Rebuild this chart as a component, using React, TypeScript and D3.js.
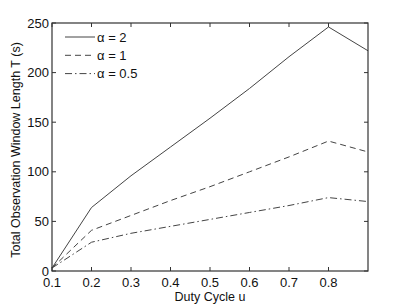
import React, { useEffect, useRef } from 'react';
import * as d3 from 'd3';

const dutyCycle = [0.1, 0.2, 0.3, 0.4, 0.5, 0.6, 0.7, 0.8, 0.9];
const alpha2 = [3, 64, 96, 125, 154, 184, 216, 246, 222];
const alpha1 = [3, 41, 56, 71, 85, 100, 115, 131, 120];
const alpha05 = [3, 29, 38, 45, 52, 59, 66, 74, 70];
const seriesNames = ['α = 2', 'α = 1', 'α = 0.5'];
const xTicks = [0.1, 0.2, 0.3, 0.4, 0.5, 0.6, 0.7, 0.8];
const yTicks = [0, 50, 100, 150, 200, 250];

const W = 407, H = 305;
const margin = { left: 52, top: 23, right: 39, bottom: 34 };

const App = () => {
  const svgRef = useRef(null);

  useEffect(() => {
    const svg = d3.select(svgRef.current);
    svg.selectAll('*').remove();
    const font = 'Liberation Sans, Arial, sans-serif';
    const iw = W - margin.left - margin.right;
    const ih = H - margin.top - margin.bottom;

    const x = d3.scaleLinear().domain([0.1, 0.9]).range([margin.left, margin.left + iw]);
    const y = d3.scaleLinear().domain([0, 250]).range([margin.top + ih, margin.top]);

    const g = svg.append('g');
    const axisColor = '#333';

    // lines
    const dashes = [null, '6,4', '7,3,1.5,3'];
    const data = [alpha2, alpha1, alpha05];
    const line = d3.line<number>()
      .x((d, i) => x(dutyCycle[i]))
      .y(d => y(d));
    data.forEach((s, k) => {
      g.append('path')
        .attr('d', line(s))
        .attr('fill', 'none')
        .attr('stroke', '#444')
        .attr('stroke-width', 1)
        .attr('stroke-dasharray', dashes[k]);
    });

    // box
    g.append('rect')
      .attr('x', margin.left).attr('y', margin.top)
      .attr('width', iw).attr('height', ih)
      .attr('fill', 'none').attr('stroke', axisColor).attr('stroke-width', 1.2);

    // ticks
    xTicks.forEach(t => {
      g.append('line').attr('x1', x(t)).attr('x2', x(t))
        .attr('y1', margin.top + ih).attr('y2', margin.top + ih - 4)
        .attr('stroke', axisColor);
      g.append('line').attr('x1', x(t)).attr('x2', x(t))
        .attr('y1', margin.top).attr('y2', margin.top + 4)
        .attr('stroke', axisColor);
      g.append('text').attr('x', x(t)).attr('y', margin.top + ih + 16)
        .attr('text-anchor', 'middle').attr('font-family', font).attr('font-size', 13)
        .attr('fill', '#111').text(d3.format('.1f')(t));
    });
    yTicks.forEach(t => {
      g.append('line').attr('x1', margin.left).attr('x2', margin.left + 4)
        .attr('y1', y(t)).attr('y2', y(t)).attr('stroke', axisColor);
      g.append('line').attr('x1', margin.left + iw).attr('x2', margin.left + iw - 4)
        .attr('y1', y(t)).attr('y2', y(t)).attr('stroke', axisColor);
      g.append('text').attr('x', margin.left - 3).attr('y', y(t) + 4.5)
        .attr('text-anchor', 'end').attr('font-family', font).attr('font-size', 13)
        .attr('fill', '#111').text(t);
    });

    // axis labels
    g.append('text').attr('x', margin.left + iw / 2).attr('y', 301)
      .attr('text-anchor', 'middle').attr('font-family', font).attr('font-size', 12.5)
      .attr('fill', '#111').text('Duty Cycle u');
    g.append('text')
      .attr('transform', `translate(20,${margin.top + ih / 2 + 3}) rotate(-90)`)
      .attr('text-anchor', 'middle').attr('font-family', font).attr('font-size', 12.5)
      .attr('fill', '#111').text('Total Observation Window Length T (s)');

    // legend
    seriesNames.forEach((name, k) => {
      const ly = 37 + k * 18.3;
      g.append('line').attr('x1', 65).attr('x2', 95).attr('y1', ly).attr('y2', ly)
        .attr('stroke', '#444').attr('stroke-dasharray', dashes[k]);
      g.append('text').attr('x', 97).attr('y', ly + 4.5)
        .attr('font-family', font).attr('font-size', 13).attr('fill', '#111').text(name);
    });
  }, []);

  return (
    <svg ref={svgRef} width={W} height={H} style={{ position: 'absolute', left: 0, top: 0, background: '#fff' }}></svg>
  );
};

export default App;
